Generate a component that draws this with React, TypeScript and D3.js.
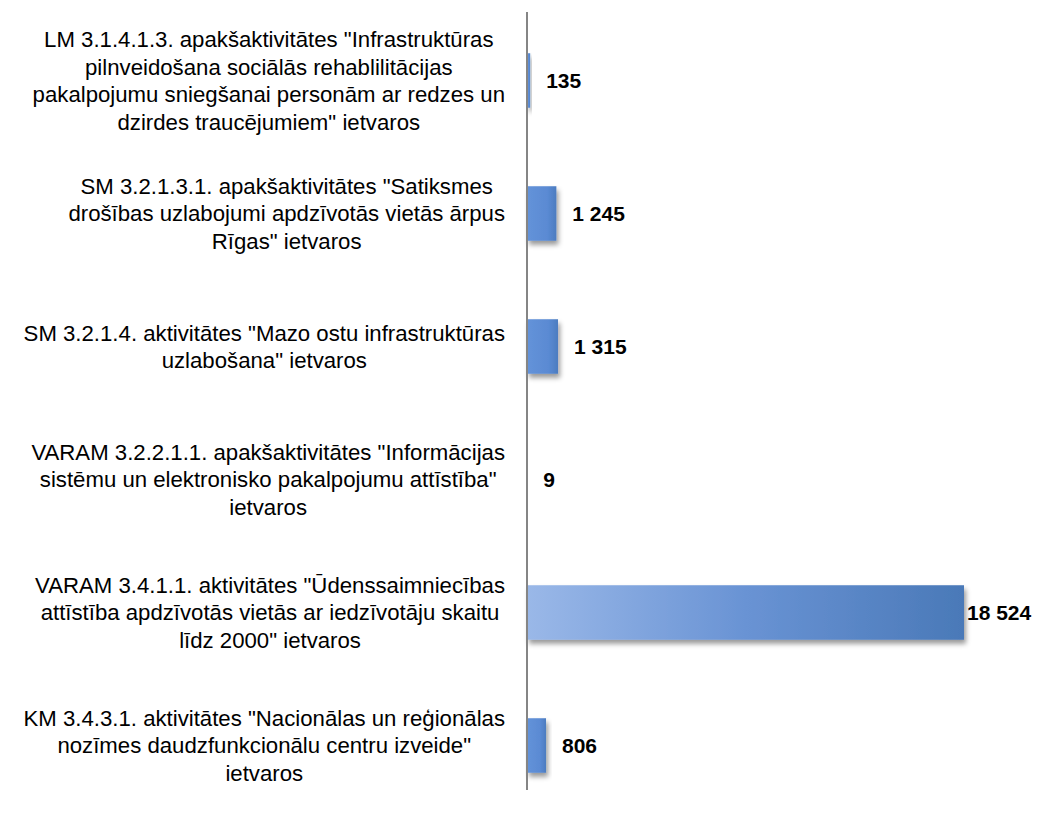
import React, { useEffect, useRef } from 'react';
import * as d3 from 'd3';

const WIDTH = 1038;
const HEIGHT = 813;

// category labels, already wrapped as in the original
const labelLines: string[][] = [
    ['LM 3.1.4.1.3. apakšaktivitātes "Infrastruktūras', 'pilnveidošana sociālās rehablilitācijas', 'pakalpojumu sniegšanai personām ar redzes un', 'dzirdes traucējumiem" ietvaros'],
    ['SM 3.2.1.3.1. apakšaktivitātes "Satiksmes', 'drošības uzlabojumi apdzīvotās vietās ārpus', 'Rīgas" ietvaros'],
    ['SM 3.2.1.4. aktivitātes "Mazo ostu infrastruktūras', 'uzlabošana" ietvaros'],
    ['VARAM 3.2.2.1.1. apakšaktivitātes "Informācijas', 'sistēmu un elektronisko pakalpojumu attīstība"', 'ietvaros'],
    ['VARAM 3.4.1.1. aktivitātes "Ūdenssaimniecības', 'attīstība apdzīvotās vietās ar iedzīvotāju skaitu', 'līdz 2000" ietvaros'],
    ['KM 3.4.3.1. aktivitātes "Nacionālas un reģionālas', 'nozīmes daudzfunkcionālu centru izveide"', 'ietvaros'],
];
const categories = ['LM 3.1.4.1.3', 'SM 3.2.1.3.1', 'SM 3.2.1.4', 'VARAM 3.2.2.1.1', 'VARAM 3.4.1.1', 'KM 3.4.3.1'];
const values = [135, 1245, 1315, 9, 18524, 806];

const FONT = '"Liberation Sans", Arial, Helvetica, sans-serif';
const AXIS_X = 527;
const LABEL_RIGHT = 505;
const LINE_H = 27.5;
const LABEL_SIZE = 22.2;

const App = () => {
    const ref = useRef<SVGSVGElement>(null);

    useEffect(() => {
        const svg = d3.select(ref.current);
        svg.selectAll('*').remove();

        const defs = svg.append('defs');
        // wide bars: light to dark across the bar
        const grad = defs.append('linearGradient')
            .attr('id', 'barGrad')
            .attr('x1', '0').attr('x2', '1').attr('y1', '0').attr('y2', '0');
        grad.append('stop').attr('offset', '0').attr('stop-color', '#9ab8e8');
        grad.append('stop').attr('offset', '0.5').attr('stop-color', '#6993d4');
        grad.append('stop').attr('offset', '1').attr('stop-color', '#4a79b8');
        // narrow bars look almost flat
        const gradSmall = defs.append('linearGradient')
            .attr('id', 'barGradSmall')
            .attr('x1', '0').attr('x2', '1').attr('y1', '0').attr('y2', '0');
        gradSmall.append('stop').attr('offset', '0').attr('stop-color', '#6493d9');
        gradSmall.append('stop').attr('offset', '0.7').attr('stop-color', '#5a8ad3');
        gradSmall.append('stop').attr('offset', '1').attr('stop-color', '#4c7cc0');

        const shadow = defs.append('filter')
            .attr('id', 'shadow')
            .attr('x', '-10%').attr('y', '-20%').attr('width', '140%').attr('height', '160%');
        shadow.append('feDropShadow')
            .attr('dx', 2).attr('dy', 4)
            .attr('stdDeviation', 2.5)
            .attr('flood-color', '#000')
            .attr('flood-opacity', 0.4);

        const yScale = d3.scaleBand()
            .domain(categories)
            .range([14, 812])
            .paddingInner(0.59)
            .paddingOuter(0.295);

        const xScale = d3.scaleLinear()
            .domain([0, d3.max(values)!])
            .range([AXIS_X, 964]);

        const data = categories.map((c, i) => ({ cat: c, value: values[i], lines: labelLines[i] }));

        // bars
        svg.append('g')
            .selectAll('rect')
            .data(data)
            .enter().append('rect')
            .attr('x', AXIS_X)
            .attr('y', d => yScale(d.cat)!)
            .attr('width', d => Math.max(0, xScale(d.value) - AXIS_X))
            .attr('height', yScale.bandwidth())
            .attr('fill', d => xScale(d.value) - AXIS_X > 100 ? 'url(#barGrad)' : 'url(#barGradSmall)')
            .attr('filter', 'url(#shadow)');

        // vertical axis line
        svg.append('line')
            .attr('x1', AXIS_X).attr('x2', AXIS_X)
            .attr('y1', 12).attr('y2', 790)
            .attr('stroke', '#858585')
            .attr('stroke-width', 2);

        // value labels
        const fmt = (v: number) => d3.format(',')(v).replace(/,/g, ' ');
        svg.append('g')
            .selectAll('text')
            .data(data)
            .enter().append('text')
            .attr('x', d => Math.min(xScale(d.value) + 16, 967))
            .attr('y', d => yScale(d.cat)! + yScale.bandwidth() / 2 + 7.5)
            .attr('font-family', FONT)
            .attr('font-size', 21)
            .attr('font-weight', 'bold')
            .attr('fill', '#000')
            .text(d => fmt(d.value));

        // category labels: lines centred within a block whose right edge sits at LABEL_RIGHT
        data.forEach(d => {
            const cy = yScale(d.cat)! + yScale.bandwidth() / 2;
            const g = svg.append('g');
            const texts = g.selectAll('text')
                .data(d.lines)
                .enter().append('text')
                .attr('y', (_, j) => cy + (j - (d.lines.length - 1) / 2) * LINE_H + 7.8)
                .attr('font-family', FONT)
                .attr('font-size', LABEL_SIZE)
                .attr('fill', '#000')
                .attr('text-anchor', 'middle')
                .text(l => l);
            let maxW = 0;
            texts.each(function () {
                maxW = Math.max(maxW, (this as SVGTextElement).getComputedTextLength());
            });
            texts.attr('x', LABEL_RIGHT - maxW / 2);
        });
    }, []);

    return (
        <svg ref={ref} width={WIDTH} height={HEIGHT}
            style={{ position: 'absolute', left: 0, top: 0, background: '#fff' }} />
    );
};

export default App;
